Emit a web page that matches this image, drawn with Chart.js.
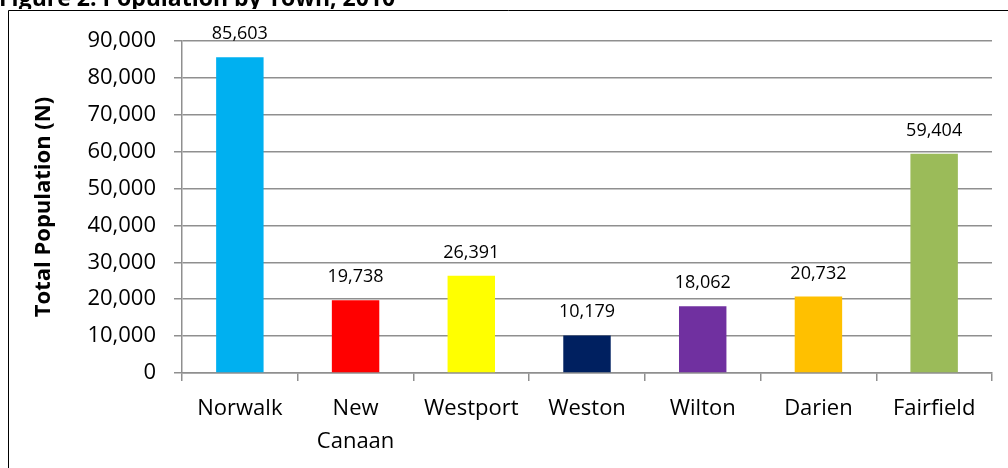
<!DOCTYPE html>
<html>
<head>
<meta charset="utf-8">
<script src="https://cdn.jsdelivr.net/npm/chart.js@4.4.0/dist/chart.umd.min.js"></script>
<style>
  html, body { margin: 0; padding: 0; background: #fff; }
  #wrap { position: relative; width: 1008px; height: 468px; }
</style>
</head>
<body>
<div id="wrap"><canvas id="popChart" width="1008" height="468"></canvas></div>
<script>
// Population by town, 2010
const towns = ["Norwalk", ["New", "Canaan"], "Westport", "Weston", "Wilton", "Darien", "Fairfield"];
const population = [85603, 19738, 26391, 10179, 18062, 20732, 59404];
const barColors = ["#00b0f0", "#ff0000", "#ffff00", "#002060", "#7030a0", "#ffc000", "#9bbb59"];
const figureTitle = "Figure 2: Population by Town, 2010";
const yTitle = "Total Population (N)";

const FONT = "'Open Sans', 'Noto Sans', sans-serif";
const gridGray = "#8f8f8f";

// frame, clipped figure title and value labels
const extras = {
  id: "extras",
  beforeDraw(chart) {
    const ctx = chart.ctx;
    ctx.save();
    ctx.beginPath();
    ctx.rect(0, 0, chart.width, 9);
    ctx.clip();
    ctx.font = "bold 23px " + FONT;
    ctx.fillStyle = "#000";
    ctx.textBaseline = "alphabetic";
    ctx.textAlign = "left";
    ctx.fillText(figureTitle, -1, 6);
    ctx.restore();

    ctx.save();
    ctx.strokeStyle = "#000";
    ctx.lineWidth = 1;
    ctx.beginPath();
    ctx.moveTo(8.5, chart.height);
    ctx.lineTo(8.5, 10.5);
    ctx.lineTo(chart.width, 10.5);
    ctx.stroke();
    ctx.restore();
  },
  afterDatasetsDraw(chart) {
    const ctx = chart.ctx;
    const meta = chart.getDatasetMeta(0);
    ctx.save();
    ctx.font = "18px " + FONT;
    ctx.fillStyle = "#000";
    ctx.textAlign = "center";
    ctx.textBaseline = "alphabetic";
    meta.data.forEach((bar, i) => {
      ctx.fillText(population[i].toLocaleString("en-US"), bar.x, bar.y - 18);
    });
    ctx.restore();
  }
};

new Chart(document.getElementById("popChart"), {
  type: "bar",
  data: {
    labels: towns,
    datasets: [{
      data: population,
      backgroundColor: barColors,
      borderWidth: 0,
      categoryPercentage: 1,
      barPercentage: 0.41
    }]
  },
  options: {
    responsive: false,
    animation: false,
    layout: { padding: { top: 41, right: 16, bottom: 0, left: 0 } },
    plugins: {
      legend: { display: false },
      tooltip: { enabled: false }
    },
    scales: {
      x: {
        afterFit(scale) { scale.height = 95; },
        grid: {
          offset: true,
          drawOnChartArea: false,
          drawTicks: true,
          tickLength: 8,
          color: gridGray,
          lineWidth: 1.5
        },
        border: { color: gridGray, width: 1.5 },
        ticks: {
          color: "#000",
          padding: 11,
          maxRotation: 0,
          autoSkip: false,
          font: { family: FONT, size: 22, lineHeight: 1.5 }
        }
      },
      y: {
        min: 0,
        max: 90000,
        afterFit(scale) { scale.width = 182; },
        grid: {
          color: gridGray,
          lineWidth: 1.5,
          tickLength: 8
        },
        border: { color: gridGray, width: 1.5 },
        ticks: {
          stepSize: 10000,
          color: "#000",
          padding: 18,
          font: { family: FONT, size: 22 },
          callback: v => v.toLocaleString("en-US")
        },
        title: {
          display: true,
          text: yTitle,
          color: "#000",
          padding: { top: 31, bottom: 0 },
          font: { family: FONT, size: 22, weight: "bold", lineHeight: 1.2 }
        }
      }
    }
  },
  plugins: [extras]
});
</script>
</body>
</html>
